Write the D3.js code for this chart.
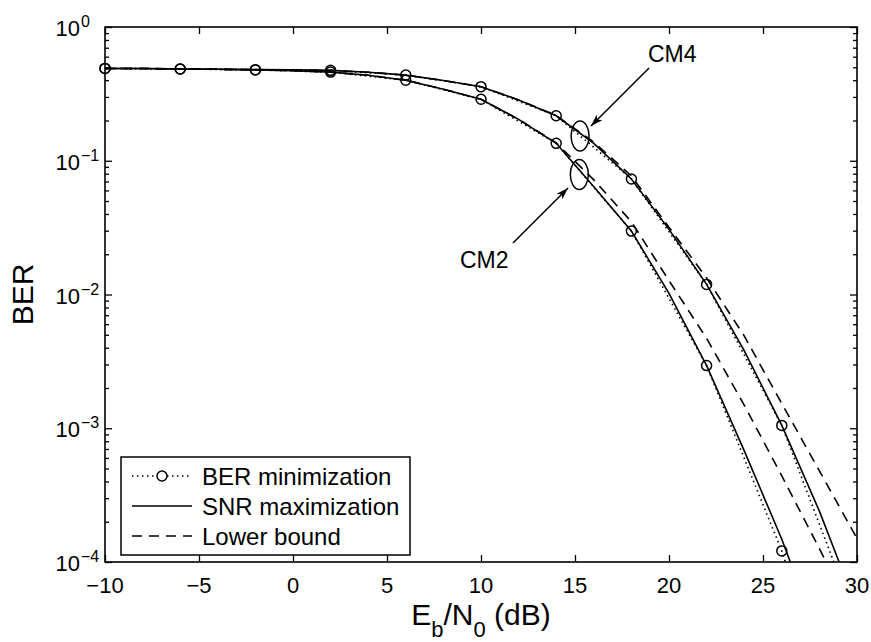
<!DOCTYPE html>
<html>
<head>
<meta charset="utf-8">
<script src="https://cdn.jsdelivr.net/npm/d3@7"></script>
<style>
  body { margin: 0; background: #fff; }
  svg { display: block; }
  text { font-family: "Liberation Sans", Arial, Helvetica, sans-serif; fill: #000; }
</style>
</head>
<body>
<div id="chart"></div>
<script>
// Eb/N0 grid for the continuous curves
const snrX = [-10, -8, -6, -4, -2, 0, 2, 4, 6, 8, 10, 12, 14, 16, 18, 20, 22, 24, 26, 28, 30];
// SNR maximization (solid)
const snrCM2 = [0.49, 0.49, 0.485, 0.483, 0.478, 0.472, 0.46, 0.436, 0.40, 0.343, 0.288, 0.204, 0.135, 0.064, 0.0298, 0.0102, 0.00294, 6.8e-4, 1.48e-4, 2.6e-5, 4e-6];
const snrCM4 = [0.49, 0.49, 0.485, 0.483, 0.48, 0.478, 0.474, 0.459, 0.437, 0.398, 0.358, 0.285, 0.217, 0.135, 0.0731, 0.0307, 0.0119, 0.0038, 0.00105, 2.4e-4, 4.5e-5];
// Lower bound (dashed)
const boundCM2 = [0.49, 0.49, 0.485, 0.483, 0.478, 0.472, 0.46, 0.436, 0.40, 0.343, 0.288, 0.204, 0.136, 0.072, 0.035, 0.0127, 0.0047, 0.00149, 4.4e-4, 1.26e-4, 3.5e-5];
const boundCM4 = [0.49, 0.49, 0.485, 0.483, 0.48, 0.478, 0.474, 0.459, 0.437, 0.398, 0.358, 0.285, 0.218, 0.138, 0.077, 0.0318, 0.0133, 0.0049, 0.00153, 4.8e-4, 1.5e-4];
// BER minimization (dotted with circles)
const berX = [-10, -6, -2, 2, 6, 10, 14, 18, 22, 26, 30];
const berCM2 = [0.49, 0.485, 0.478, 0.46, 0.40, 0.288, 0.135, 0.0298, 0.00294, 1.21e-4, 2e-6];
const berCM4 = [0.49, 0.485, 0.48, 0.474, 0.437, 0.358, 0.217, 0.0731, 0.0119, 0.00105, 3.5e-5];

const xTicks = [-10, -5, 0, 5, 10, 15, 20, 25, 30];
const yDecades = [0, -1, -2, -3, -4];
const legendLabels = ['BER minimization', 'SNR maximization', 'Lower bound'];

const W = 871, H = 642;
const mLeft = 105, mRight = 857, mTop = 27, mBottom = 562;

const x = d3.scaleLinear().domain([-10, 30]).range([mLeft, mRight]);
const y = d3.scaleLog().domain([1e-4, 1]).range([mBottom, mTop]);

const svg = d3.select('#chart').append('svg')
  .attr('width', W)
  .attr('height', H);

const defs = svg.append('defs');
defs.append('clipPath').attr('id', 'plot')
  .append('rect')
  .attr('x', mLeft).attr('y', mTop)
  .attr('width', mRight - mLeft).attr('height', mBottom - mTop);

defs.append('marker')
  .attr('id', 'arrow')
  .attr('viewBox', '0 -5 12 10')
  .attr('refX', 12).attr('refY', 0)
  .attr('markerWidth', 12).attr('markerHeight', 10)
  .attr('markerUnits', 'userSpaceOnUse')
  .attr('orient', 'auto')
  .append('path')
  .attr('d', 'M0,-4L12,0L0,4L3,0Z')
  .attr('fill', '#000');

// minor log ticks
const minor = [];
yDecades.slice(1).forEach(e => {
  for (let k = 2; k <= 9; k++) minor.push(k * Math.pow(10, e));
});
const majorY = yDecades.map(e => Math.pow(10, e));

function styleAxis(g) {
  g.select('.domain').remove();
  g.selectAll('.tick line').attr('stroke', '#000').attr('stroke-width', 1.3);
  g.selectAll('.tick text').remove();
}

// ticks point inward on all four sides
svg.append('g').attr('transform', `translate(0,${mBottom})`)
  .call(d3.axisBottom(x).tickValues(xTicks).tickSize(-7).tickSizeOuter(0)).call(styleAxis);
svg.append('g').attr('transform', `translate(0,${mTop})`)
  .call(d3.axisTop(x).tickValues(xTicks).tickSize(-7).tickSizeOuter(0)).call(styleAxis);

[[mLeft, d3.axisLeft], [mRight, d3.axisRight]].forEach(([px, ax]) => {
  svg.append('g').attr('transform', `translate(${px},0)`)
    .call(ax(y).tickValues(majorY).tickSize(-7).tickSizeOuter(0)).call(styleAxis);
  svg.append('g').attr('transform', `translate(${px},0)`)
    .call(ax(y).tickValues(minor).tickSize(-4).tickSizeOuter(0)).call(styleAxis);
});

// frame
svg.append('rect')
  .attr('x', mLeft).attr('y', mTop)
  .attr('width', mRight - mLeft).attr('height', mBottom - mTop)
  .attr('fill', 'none').attr('stroke', '#000').attr('stroke-width', 1.6);

// tick labels
svg.append('g').selectAll('text')
  .data(xTicks)
  .join('text')
  .attr('x', d => x(d))
  .attr('y', mBottom + 31)
  .attr('text-anchor', 'middle')
  .attr('font-size', 22)
  .text(d => d < 0 ? '\u2212' + Math.abs(d) : d);

const yl = svg.append('g').selectAll('g')
  .data(yDecades)
  .join('g');
yl.append('text')
  .attr('x', 80)
  .attr('y', d => y(Math.pow(10, d)) + 9)
  .attr('text-anchor', 'end')
  .attr('font-size', 22)
  .text('10');
yl.append('text')
  .attr('x', 81)
  .attr('y', d => y(Math.pow(10, d)))
  .attr('font-size', 16)
  .text(d => d < 0 ? '\u2212' + Math.abs(d) : d);

// axis labels
const xl = svg.append('text')
  .attr('x', (mLeft + mRight) / 2)
  .attr('y', 625)
  .attr('text-anchor', 'middle')
  .attr('font-size', 30);
xl.append('tspan').text('E');
xl.append('tspan').attr('font-size', 22).attr('dy', 12).text('b');
xl.append('tspan').attr('dy', -12).text('/N');
xl.append('tspan').attr('font-size', 22).attr('dy', 12).text('0');
xl.append('tspan').attr('dy', -12).text(' (dB)');

svg.append('text')
  .attr('transform', `translate(33,${(mTop + mBottom) / 2}) rotate(-90)`)
  .attr('text-anchor', 'middle')
  .attr('font-size', 30)
  .text('BER');

// curves
const line = d3.line().x(d => x(d[0])).y(d => y(d[1]));
const plot = svg.append('g').attr('clip-path', 'url(#plot)');

const curves = [
  { xs: snrX, ys: boundCM2, dash: '10,7' },
  { xs: snrX, ys: boundCM4, dash: '10,7' },
  { xs: berX, ys: berCM2, dash: '1.5,3.5' },
  { xs: berX, ys: berCM4, dash: '1.5,3.5' },
  { xs: snrX, ys: snrCM2, dash: null },
  { xs: snrX, ys: snrCM4, dash: null }
];
curves.forEach(c => {
  plot.append('path')
    .datum(c.xs.map((v, i) => [v, c.ys[i]]))
    .attr('d', line)
    .attr('fill', 'none')
    .attr('stroke', '#000')
    .attr('stroke-width', 1.6)
    .attr('stroke-dasharray', c.dash);
});

// markers for BER minimization
[berCM2, berCM4].forEach(ys => {
  svg.append('g').selectAll('circle')
    .data(berX.map((v, i) => [v, ys[i]]).filter(d => d[1] >= 1e-4))
    .join('circle')
    .attr('cx', d => x(d[0]))
    .attr('cy', d => y(d[1]))
    .attr('r', 5)
    .attr('fill', 'none')
    .attr('stroke', '#000')
    .attr('stroke-width', 1.5);
});

// CM annotations (data coordinates)
const notes = [
  { label: 'CM4', cx: 15.27, cy: 0.153, tx: 18.88, ty: 0.547, from: [18.94, 0.494], to: [15.85, 0.182] },
  { label: 'CM2', cx: 15.23, cy: 0.079, tx: 8.88, ty: 0.0158, from: [11.70, 0.0243], to: [14.63, 0.0625] }
];
notes.forEach(n => {
  svg.append('ellipse')
    .attr('cx', x(n.cx)).attr('cy', y(n.cy))
    .attr('rx', 9).attr('ry', 15)
    .attr('fill', 'none').attr('stroke', '#000').attr('stroke-width', 1.5);
  svg.append('line')
    .attr('x1', x(n.from[0])).attr('y1', y(n.from[1]))
    .attr('x2', x(n.to[0])).attr('y2', y(n.to[1]))
    .attr('stroke', '#000').attr('stroke-width', 1.5)
    .attr('marker-end', 'url(#arrow)');
  svg.append('text')
    .attr('x', x(n.tx)).attr('y', y(n.ty))
    .attr('font-size', 23)
    .text(n.label);
});

// legend
const lg = svg.append('g');
lg.append('rect')
  .attr('x', 121).attr('y', 457)
  .attr('width', 289).attr('height', 98)
  .attr('fill', '#fff').attr('stroke', '#000').attr('stroke-width', 1.5);
const dashes = ['1.5,3.5', null, '10,7'];
legendLabels.forEach((lab, i) => {
  const cy = 476 + i * 30;
  lg.append('line')
    .attr('x1', 132).attr('x2', 192)
    .attr('y1', cy).attr('y2', cy)
    .attr('stroke', '#000').attr('stroke-width', 1.6)
    .attr('stroke-dasharray', dashes[i]);
  if (i === 0) {
    lg.append('circle').attr('cx', 162).attr('cy', cy).attr('r', 5)
      .attr('fill', '#fff').attr('stroke', '#000').attr('stroke-width', 1.5);
  }
  lg.append('text')
    .attr('x', 202).attr('y', cy + 9)
    .attr('font-size', 24)
    .text(lab);
});
</script>
</body>
</html>
